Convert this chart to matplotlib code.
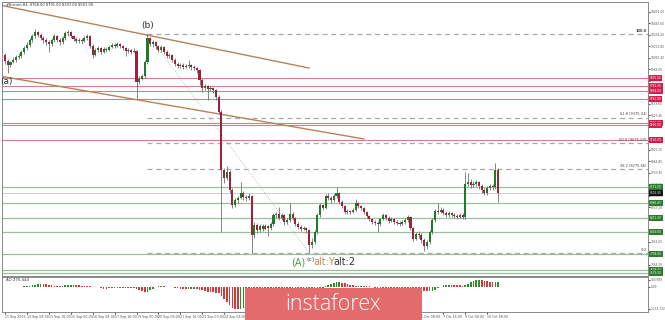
import numpy as np
import pandas as pd
import matplotlib
matplotlib.use("Agg")
import matplotlib.pyplot as plt
from matplotlib.patches import Rectangle

# Bitcoin H4 candles, 11 Sep 2019 00:00 onwards (open = previous close)
first_open = 10102
closes = [
    10032, 9986, 10021, 10044, 10079, 10090, 10137, 10183, 10218, 10276,
    10322, 10369, 10334, 10299, 10276, 10253, 10230, 10276, 10322, 10276,
    10253, 10299, 10357, 10369, 10322, 10288, 10264, 10276, 10264, 10299,
    10322, 10206, 10102, 10160, 10183, 10137, 10172, 10160, 10195, 10218,
    10206, 10230, 10206, 10183, 10148, 10160, 10137, 10148, 9789, 9824,
    9858, 10021, 10299, 10230, 10253, 10206, 10160, 10195, 10137, 10090,
    10102, 10044, 9998, 9974, 9986, 9963, 9974, 9986, 9963, 9951,
    9928, 9812, 9719, 9742, 9708, 9719, 9696, 9615, 9441, 8768,
    8675, 8745, 8536, 8362, 8420, 8443, 8501, 8455, 8443, 8466,
    8014, 8130, 8072, 8118, 8084, 8118, 8095, 8142, 8246, 8258,
    8211, 8246, 8165, 8188, 8258, 8211, 8142, 8107, 8084, 8095,
    8072, 7898, 7933, 8049, 8246, 8362, 8327, 8466, 8443, 8420,
    8466, 8501, 8397, 8350, 8281, 8292, 8281, 8304, 8385, 8350,
    8327, 8281, 8234, 8200, 8165, 8153, 8142, 8200, 8246, 8211,
    8176, 8200, 8165, 8153, 8142, 8165, 8188, 8223, 8095, 7968,
    8026, 8014, 7956, 7886, 7933, 8049, 8188, 8292, 8281, 8304,
    8269, 8246, 8269, 8246, 8234, 8223, 8246, 8223, 8606, 8629,
    8594, 8606, 8629, 8582, 8536, 8501, 8559, 8582, 8571, 8768,
    8501,
]
highs = [
    10125, 10056, 10032, 10079, 10102, 10125, 10160, 10206, 10253, 10299,
    10346, 10404, 10380, 10357, 10322, 10299, 10276, 10299, 10346, 10334,
    10299, 10322, 10380, 10392, 10380, 10334, 10311, 10299, 10299, 10322,
    10346, 10334, 10230, 10183, 10206, 10195, 10195, 10195, 10218, 10241,
    10241, 10253, 10241, 10218, 10195, 10183, 10172, 10183, 10160, 9858,
    9882, 10044, 10346, 10311, 10276, 10264, 10218, 10218, 10206, 10160,
    10125, 10114, 10067, 10021, 10009, 10009, 9998, 10044, 9998, 9986,
    9963, 9940, 9835, 9766, 9754, 9742, 9731, 9708, 9638, 9464,
    8791, 8814, 8768, 8559, 8443, 8466, 8629, 8524, 8478, 8501,
    8478, 8165, 8153, 8142, 8142, 8142, 8130, 8165, 8269, 8281,
    8339, 8269, 8258, 8211, 8385, 8281, 8223, 8165, 8130, 8118,
    8107, 8084, 7979, 8072, 8269, 8385, 8374, 8490, 8501, 8466,
    8490, 8571, 8513, 8420, 8362, 8316, 8304, 8327, 8432, 8397,
    8362, 8339, 8292, 8246, 8211, 8188, 8176, 8211, 8269, 8258,
    8234, 8223, 8211, 8188, 8176, 8188, 8211, 8246, 8234, 8107,
    8049, 8060, 8037, 7979, 7956, 8072, 8211, 8316, 8385, 8339,
    8327, 8292, 8292, 8281, 8269, 8258, 8269, 8269, 8745, 8733,
    8664, 8640, 8652, 8640, 8606, 8559, 8582, 8606, 8606, 8849,
    8791,
]
lows = [
    9998, 9893, 9963, 10009, 10021, 10056, 10067, 10114, 10160, 10195,
    10253, 10299, 10311, 10276, 10241, 10218, 10137, 10206, 10253, 10253,
    10218, 10230, 10276, 10322, 10299, 10264, 10241, 10241, 10230, 10253,
    10276, 10183, 10067, 10090, 10137, 10114, 10125, 10137, 10148, 10183,
    10183, 10195, 10183, 10160, 10090, 10125, 10114, 10125, 9592, 9766,
    9812, 9835, 9998, 10206, 10195, 10172, 10137, 10137, 10114, 10067,
    10067, 10021, 9974, 9951, 9951, 9940, 9951, 9951, 9928, 9928,
    9893, 9754, 9673, 9696, 9580, 9684, 9661, 9580, 9418, 8049,
    8617, 8652, 8501, 8327, 8339, 8385, 8432, 8420, 8408, 8420,
    7805, 7979, 8037, 8049, 8060, 8072, 8002, 8072, 8118, 8211,
    8188, 8188, 8130, 8142, 8165, 8188, 8118, 8084, 8060, 8072,
    8037, 7805, 7863, 7910, 8026, 8223, 8304, 8316, 8420, 8385,
    8397, 8443, 8374, 8327, 8258, 8258, 8258, 8269, 8292, 8327,
    8304, 8258, 8211, 8176, 8142, 8130, 8049, 8118, 8188, 8188,
    8153, 8165, 8142, 8130, 8118, 8130, 8142, 8165, 8072, 7944,
    7956, 7979, 7921, 7828, 7852, 7910, 8026, 8165, 8258, 8269,
    8246, 8223, 8223, 8223, 8211, 8200, 8211, 8200, 8200, 8582,
    8559, 8571, 8582, 8548, 8501, 8478, 8478, 8536, 8536, 8548,
    8397,
]

# horizontal levels
red_levels = [9835, 9742, 9684, 9592, 9313, 9290, 9116]
green_levels = [8571, 8385, 8211, 8049, 7794, 7608, 7573]
fib_ratios = [100.0, 61.8, 50.0, 38.2, 0.0]
b_idx, c_idx = 52, 111          # wave (b) top and wave (c) bottom
a_idx = 1

closes = np.array(closes, dtype=float)
highs = np.array(highs, dtype=float)
lows = np.array(lows, dtype=float)
opens = np.concatenate([[first_open], closes[:-1]])
n = len(closes)
idx = np.arange(n)
times = pd.date_range("2019-09-11 00:00", periods=n, freq="4h")

# Awesome oscillator from median price
med = pd.Series((highs + lows) / 2)
ao = (med.rolling(5, min_periods=1).mean() - med.rolling(34, min_periods=1).mean()).values

BULL, BEAR = "#1f7a2a", "#a3203c"
RED_LINE, GREEN_LINE = "#cf8090", "#9cbf9c"

fig = plt.figure(figsize=(6.65, 3.2), dpi=100)
ax = fig.add_axes([2 / 665, 44 / 320, 646 / 665, 274 / 320])
ax2 = fig.add_axes([2 / 665, 8 / 320, 646 / 665, 35 / 320])

xl = (-1.1, 234.7)
ax.set_xlim(*xl)
ax.set_ylim(7538, 10717)

# levels
for p in red_levels:
    ax.axhline(p, color=RED_LINE, lw=0.8, zorder=1)
for p in green_levels:
    ax.axhline(p, color=GREEN_LINE, lw=0.9, zorder=1)

fib_hi, fib_lo = highs[b_idx], lows[c_idx]
for r in fib_ratios:
    p = fib_lo + (fib_hi - fib_lo) * r / 100
    ax.plot([b_idx, xl[1]], [p, p], color="#a8a8a8", lw=0.9, ls=(0, (4, 3)), zorder=1)
    txt = f"{r:.1f}" if r in (0.0, 100.0) else f"{r:.1f} ({p:.2f})"
    ax.text(234.2, p + 15, txt, fontsize=2.6, color="#444", ha="right", va="bottom",
            fontweight="bold" if r == 100.0 else "normal")

# last price line
ax.axhline(closes[-1], color="#cccccc", lw=0.7, zorder=1)

# channel
ax.plot([-2, 111], [10682, 9951], color="#b5835a", lw=1.0, zorder=2)
ax.plot([-2, 131], [9858, 9128], color="#b5835a", lw=1.0, zorder=2)
# (b) -> (c) dotted line
ax.plot([b_idx, c_idx], [highs[b_idx], lows[c_idx]], color="#d9a0a0", lw=0.6, ls=":", zorder=2)

# candles
up = closes >= opens
ax.vlines(idx, lows, highs, color="#707070", lw=0.6, zorder=3)
body_lo = np.minimum(opens, closes)
body_h = np.maximum(np.abs(closes - opens), 6)
ax.bar(idx, body_h, bottom=body_lo, width=0.75, color=np.where(up, BULL, BEAR),
       edgecolor="none", zorder=4)

# wave labels
ax.text(a_idx - 0.3, 9789, "(a)", fontsize=6.5, color="#333", ha="center", va="center")
ax.text(b_idx, highs[b_idx] + 45, "(b)", fontsize=6.5, color="#333", ha="center", va="bottom")
ax.text(107, 7700, "(A)", fontsize=7, color="#4a9a4a", ha="center", va="center")
ax.text(109.9, 7735, "(c)", fontsize=4.5, color="#444", ha="left", va="center")
ax.text(112.4, 7700, "alt:Y", fontsize=7, color="#c08a55", ha="left", va="center")
ax.text(119.7, 7700, "alt:2", fontsize=7, color="#333", ha="left", va="center")

# right axis
ax.yaxis.tick_right()
ax.set_yticks(np.arange(10601, 7600, -133.4))
ax.yaxis.set_major_formatter(plt.FuncFormatter(lambda v, _: f"{v:.2f}"))
ax.tick_params(axis="y", labelsize=2.1, colors="#555", length=1.2, pad=0.8)
ax.set_xticks([])


def tag(p, face, text_color="white"):
    ax.text(1.003, p, f"{p:.2f}", transform=ax.get_yaxis_transform(), fontsize=2.1,
            color=text_color, ha="left", va="center", zorder=10, clip_on=False,
            bbox=dict(boxstyle="square,pad=0.2", fc=face, ec="none"))


for p in red_levels:
    tag(p, "#d21f4b")
for p in green_levels:
    tag(p, "#2a7d2a")
tag(closes[-1], "#111111")

ax.text(0.006, 0.995, f"#Bitcoin,H4  {opens[-1]:.2f} {highs[-1]:.2f} {lows[-1]:.2f} {closes[-1]:.2f}",
        transform=ax.transAxes, fontsize=2.6, color="#333", ha="left", va="top")

for a in (ax, ax2):
    for s in a.spines.values():
        s.set_color("#888888")
        s.set_linewidth(0.7)

# oscillator panel
ao_up = np.concatenate([[True], np.diff(ao) >= 0])
ax2.bar(idx, ao, width=0.6, color=np.where(ao_up, "#2e8b2e", "#d23a3a"), edgecolor="none")
ax2.set_xlim(*xl)
ax2.set_ylim(-1325, 530)
ax2.yaxis.tick_right()
ax2.set_yticks([ao.max(), 0, ao.min()])
ax2.yaxis.set_major_formatter(plt.FuncFormatter(lambda v, _: f"{v:.3f}" if v != 0 else "0.00"))
ax2.tick_params(axis="y", labelsize=2.1, colors="#555", length=1.2, pad=0.8)
ax2.text(0.006, 0.96, f"AO {ao[-1]:.3f}", transform=ax2.transAxes, fontsize=2.8,
         color="#333", ha="left", va="top")

ticks = idx[::8]
labels = [f"{t.day} {t.strftime('%b %Y')}" if i == 0 else f"{t.day} {t.strftime('%b %H:%M')}"
          for i, t in zip(ticks, times[ticks])]
ax2.set_xticks(ticks)
ax2.set_xticklabels(labels, ha="left")
ax2.tick_params(axis="x", labelsize=2.3, colors="#555", length=1.5, pad=1)

# watermark
fig.patches.append(Rectangle((245 / 665, 0), 177 / 665, 32 / 320, transform=fig.transFigure,
                             fc="#e36b6b", ec="none", zorder=20))
fig.text(333 / 665, 16 / 320, "instaforex", fontsize=15.5, color="white", ha="center",
         va="center", family="Open Sans", fontweight="light", zorder=21)

fig.savefig("out.png", dpi=100)
